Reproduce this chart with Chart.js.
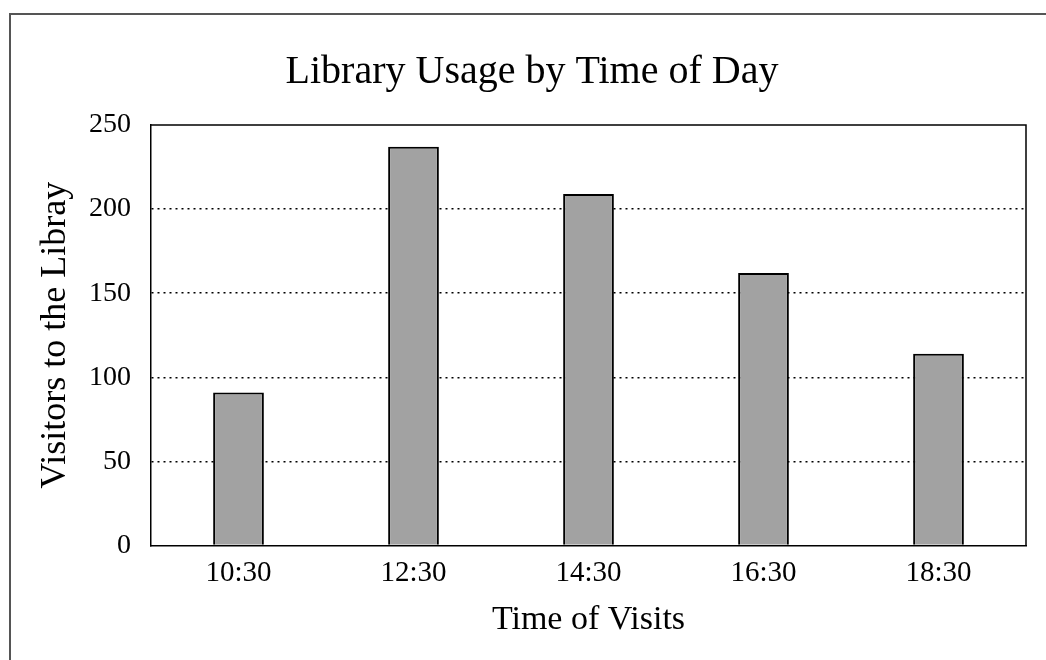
<!DOCTYPE html>
<html>
<head>
<meta charset="utf-8">
<script src="https://cdn.jsdelivr.net/npm/chart.js@4.4.0/dist/chart.umd.min.js"></script>
<style>
  body { margin: 0; background: #fff; }
  #frame { position: absolute; left: 9px; top: 13px; width: 1046px; height: 660px;
           border-top: 2px solid #555; border-left: 2px solid #555; }
  #wrap { position: absolute; left: 0; top: 0; width: 1046px; height: 660px; }
</style>
</head>
<body>
<div id="frame"></div>
<div id="wrap"><canvas id="usageChart" width="1046" height="660"></canvas></div>
<script>
const times = ['10:30', '12:30', '14:30', '16:30', '18:30'];
const visitors = [91, 237, 209, 162, 114];
const yTicks = [0, 50, 100, 150, 200, 250];

// top and right edges of the plot box
const boxLines = {
    id: 'boxLines',
    afterDraw(chart) {
        const a = chart.chartArea;
        const c = chart.ctx;
        c.save();
        c.strokeStyle = '#000';
        c.lineWidth = 1.5;
        c.beginPath();
        c.moveTo(a.left, a.top);
        c.lineTo(a.right, a.top);
        c.lineTo(a.right, a.bottom);
        c.stroke();
        c.restore();
    }
};

const serif = 'Liberation Serif';

const usageChart = new Chart(document.getElementById('usageChart'), {
    type: 'bar',
    data: {
        labels: times,
        datasets: [{
            label: 'Visitors',
            data: visitors,
            backgroundColor: '#a2a2a2',
            borderColor: '#000',
            borderWidth: 2,
            barPercentage: 0.29,
            categoryPercentage: 1
        }]
    },
    options: {
        responsive: false,
        animation: false,
        layout: {
            padding: { left: 38, right: 20, top: 0, bottom: 0 }
        },
        plugins: {
            legend: { display: false },
            tooltip: { enabled: false },
            title: {
                display: true,
                text: 'Library Usage by Time of Day',
                color: '#000',
                font: { family: serif, size: 40, weight: 'normal', lineHeight: 1.2 },
                padding: { top: 48, bottom: 29 }
            }
        },
        scales: {
            x: {
                grid: { display: false, drawTicks: false },
                border: { display: true, color: '#000', width: 1.5 },
                ticks: {
                    color: '#000',
                    padding: 10,
                    font: { family: serif, size: 29 }
                },
                title: {
                    display: true,
                    text: 'Time of Visits',
                    color: '#000',
                    font: { family: serif, size: 34, lineHeight: 1.2 },
                    padding: { top: 0, bottom: 20 }
                },
                afterFit(s) { s.height = 114.5; }
            },
            y: {
                min: 0,
                max: 250,
                afterBuildTicks(s) { s.ticks = yTicks.map(v => ({ value: v })); },
                grid: {
                    drawTicks: false,
                    color: ctx => (ctx.tick && (ctx.tick.value === 0 || ctx.tick.value === 250)) ? 'rgba(0,0,0,0)' : '#000',
                    lineWidth: 1.5
                },
                border: { display: true, color: '#000', width: 1.5, dash: [2, 4] },
                ticks: {
                    color: '#000',
                    padding: 20,
                    font: { family: serif, size: 28 }
                },
                title: {
                    display: true,
                    text: 'Visitors to the Libray',
                    color: '#000',
                    font: { family: serif, size: 36, lineHeight: 0.9 },
                    padding: { top: 1, bottom: 0 }
                },
                afterFit(s) { s.width = 113; }
            }
        }
    },
    plugins: [boxLines]
});
</script>
</body>
</html>
